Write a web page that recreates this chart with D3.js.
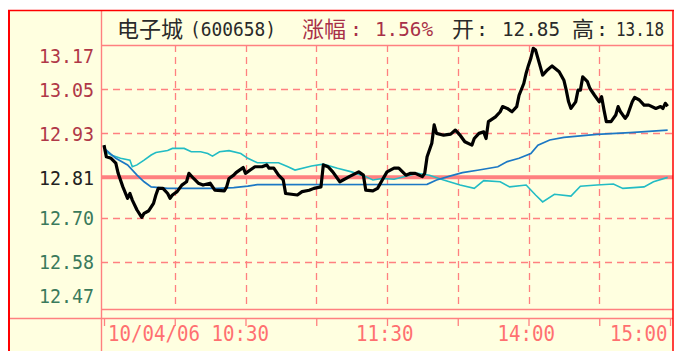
<!DOCTYPE html>
<html><head><meta charset="utf-8">
<script src="https://cdn.jsdelivr.net/npm/d3@7"></script>
<style>body{margin:0;background:#fff;}svg{display:block;}</style>
</head><body>
<script>
// ---- data (minutes since 9:30, trading minutes 0..240) ----
const timeP = [0,1,3,5,6,8,10,11,12,14,16,17,19,21,22,23,25,27,28,29,31,33,35,36,38,40,42,45,47,51,52,53,55,56,59,60,62,64,67,69,70,72,74,76,77,82,84,87,89,92,93,95,97,100,104,108,110,111,114,116,118,120,123,125,128,130,132,135,136,137,139,140,141,144,147,149,151,153,156,157,159,161,162,163,166,168,169,171,173,175,176,178,179,180,181,182,183,185,186,188,190,193,195,196,197,198,200,201,202,203,205,206,208,210,211,212,213,215,217,218,219,221,222,224,225,227,229,231,234,236,237,238,239];
const price = [12.898,12.866,12.862,12.849,12.821,12.784,12.753,12.766,12.748,12.721,12.701,12.712,12.719,12.739,12.762,12.780,12.780,12.766,12.753,12.762,12.771,12.789,12.798,12.821,12.807,12.794,12.789,12.794,12.775,12.773,12.784,12.807,12.816,12.823,12.837,12.821,12.830,12.839,12.839,12.844,12.835,12.835,12.816,12.803,12.766,12.762,12.771,12.775,12.780,12.784,12.844,12.839,12.825,12.798,12.812,12.825,12.816,12.775,12.773,12.780,12.803,12.825,12.835,12.835,12.816,12.821,12.821,12.812,12.821,12.866,12.903,12.953,12.930,12.925,12.928,12.939,12.925,12.907,12.898,12.916,12.930,12.934,12.916,12.962,12.975,12.989,13.003,12.998,12.989,13.003,13.034,13.066,13.094,13.116,13.135,13.162,13.157,13.112,13.089,13.103,13.114,13.098,13.075,13.048,13.016,12.998,13.016,13.048,13.048,13.084,13.071,13.053,13.034,13.016,13.030,12.994,12.962,12.962,12.980,13.003,12.989,12.971,12.980,13.016,13.028,13.021,13.007,13.007,12.998,13.003,12.998,13.012,13.004];
const timeA = [0,5,10,14,17,20,27,48,55,61,65,137,141,147,152,159,167,171,176,181,184,189,195,202,209,223,239];
const avgPrice = [12.890,12.862,12.844,12.816,12.798,12.784,12.780,12.780,12.782,12.786,12.790,12.791,12.803,12.814,12.823,12.830,12.839,12.853,12.862,12.875,12.898,12.912,12.919,12.923,12.927,12.932,12.939];
const timeI = [0,3,7,11,12,14,17,20,22,27,29,34,37,41,44,46,49,53,58,61,65,74,78,81,88,93,99,105,111,114,118,123,133,138,144,151,157,161,168,172,179,183,186,191,198,202,209,216,220,229,233,239];
const indexLine = [12.884,12.871,12.862,12.857,12.839,12.844,12.857,12.871,12.878,12.883,12.889,12.889,12.880,12.880,12.875,12.868,12.880,12.883,12.875,12.862,12.850,12.850,12.839,12.830,12.841,12.846,12.835,12.825,12.812,12.803,12.807,12.805,12.821,12.816,12.803,12.789,12.780,12.801,12.798,12.784,12.789,12.762,12.743,12.764,12.759,12.786,12.789,12.792,12.780,12.784,12.798,12.810];
const prevClose = 12.81;
const yTickValues = [13.17, 13.05, 12.93, 12.81, 12.70, 12.58, 12.47];
const yTickLabels = ["13.17","13.05","12.93","12.81","12.70","12.58","12.47"];
const gridTimes = [30,60,90,120,150,180,210];
const tickTimes = [0,30,60,90,120,150,180,210,240];
const xLabels = [{t:60,text:"10/04/06 10:30"},{t:120,text:"11:30"},{t:180,text:"14:00"},{t:240,text:"15:00"}];
const headerParts = [
  {text:"电子城",cjk:true,color:"#2a2a2a"},
  {text:"(600658)",cjk:false,color:"#2a2a2a"},
  {text:"涨幅",cjk:true,color:"#a83048"},
  {text:":",cjk:false,color:"#a83048"},
  {text:"1.56%",cjk:false,color:"#a83048"},
  {text:"开",cjk:true,color:"#2a2a2a"},
  {text:":",cjk:false,color:"#2a2a2a"},
  {text:"12.85",cjk:false,color:"#2a2a2a"},
  {text:"高",cjk:true,color:"#2a2a2a"},
  {text:":",cjk:false,color:"#2a2a2a"},
  {text:"13.18",cjk:false,color:"#2a2a2a"}
];
// ---- layout ----
const W=675,H=351;
const L=101, R=673, T=45, B=309, AX=318;
const PINK="#ff8080", BG="#ffffe0";
const mono="'DejaVu Sans Mono', monospace";
const cjkFont="'Noto Sans CJK SC', sans-serif";

const svg=d3.select("body").append("svg").attr("width",W).attr("height",H);
const x=d3.scaleLinear().domain([0,240]).range([104,670]);
const y=d3.scaleLinear().domain([12.451,13.171]).range([B,T]);

svg.append("rect").attr("x",9).attr("y",10).attr("width",664).attr("height",H-10).attr("fill",BG);

const defs=svg.append("defs");
defs.append("clipPath").attr("id","pclip").append("rect").attr("x",L).attr("y",T).attr("width",R-L).attr("height",B-T);

// structural pink lines
const st=svg.append("g").attr("stroke",PINK).attr("stroke-width",1.4).attr("fill","none");
st.append("line").attr("x1",101.5).attr("x2",101.5).attr("y1",10).attr("y2",H);
st.append("line").attr("x1",L).attr("x2",R).attr("y1",45.5).attr("y2",45.5);
st.append("line").attr("x1",L).attr("x2",R).attr("y1",309.5).attr("y2",309.5);
st.append("line").attr("x1",9).attr("x2",R).attr("y1",318.5).attr("y2",318.5);

// dashed grid
const g=svg.append("g").attr("stroke",PINK).attr("stroke-width",1.3).attr("stroke-dasharray","7,5");
g.selectAll(".vg").data(gridTimes).join("line")
  .attr("x1",d=>Math.round(x(d))+0.5).attr("x2",d=>Math.round(x(d))+0.5).attr("y1",T).attr("y2",B);
g.selectAll(".hg").data(yTickValues.filter(v=>v!==prevClose && v<13.1 && v>12.5)).join("line")
  .attr("x1",L).attr("x2",R).attr("y1",d=>Math.round(y(d))+0.5).attr("y2",d=>Math.round(y(d))+0.5);

// prev close thick line
svg.append("line").attr("x1",L).attr("x2",R).attr("y1",y(prevClose)).attr("y2",y(prevClose))
  .attr("stroke",PINK).attr("stroke-width",4);

// x ticks via axis
const axis=d3.axisBottom(x).tickValues(tickTimes).tickSize(8).tickFormat("");
const ax=svg.append("g").attr("transform",`translate(0,${AX})`).call(axis);
ax.select(".domain").remove();
ax.selectAll("line").attr("stroke",PINK).attr("stroke-width",1.3);

// x labels
svg.selectAll(".xl").data(xLabels).join("text")
  .attr("x",d=>d.t===60?x(0)+4:(d.t===240?x(240)-60:x(d.t)-31))
  .attr("y",341).attr("font-family",mono).attr("font-size",21)
  .attr("fill","#ff7070")
  .attr("textLength",d=>d.text.length*11.5).attr("lengthAdjust","spacingAndGlyphs")
  .text(d=>d.text);

// y labels
svg.selectAll(".yl").data(yTickValues).join("text")
  .attr("x",39)
  .attr("y",d=>Math.min(Math.max(y(d),T+10.5),B-13.5)+7.5)
  .attr("font-family",mono).attr("font-size",20)
  .attr("textLength",55).attr("lengthAdjust","spacingAndGlyphs")
  .attr("fill",d=>d>prevClose+0.001?"#b03848":(d<prevClose-0.001?"#3a7a5c":"#222"))
  .text((d,i)=>yTickLabels[i]);

// header
const hx=[117,190,302,350,375,452,476,502,572,596,616];
const hw=[0,86,0,0,58,0,0,58,0,0,48];
svg.append("g").selectAll("text").data(headerParts).join("text")
  .attr("x",(d,i)=>hx[i]).attr("y",d=>d.cjk?37:36)
  .attr("font-family",d=>d.cjk?cjkFont:mono)
  .attr("font-size",d=>d.cjk?22:20)
  .attr("fill",d=>d.color)
  .each(function(d,i){ if(hw[i]) d3.select(this).attr("textLength",hw[i]).attr("lengthAdjust","spacingAndGlyphs"); })
  .text(d=>d.text);

// series
const plot=svg.append("g").attr("clip-path","url(#pclip)");
const lineGen=(ts,vs)=>d3.line().x((d,i)=>x(ts[i])).y(d=>y(d))(vs);
plot.append("path").attr("d",lineGen(timeI,indexLine)).attr("fill","none").attr("stroke","#22bcc4").attr("stroke-width",1.6);
plot.append("path").attr("d",lineGen(timeA,avgPrice)).attr("fill","none").attr("stroke","#1c78c4").attr("stroke-width",1.7);
plot.append("path").attr("d",lineGen(timeP,price)).attr("fill","none").attr("stroke","#000").attr("stroke-width",3.2).attr("stroke-linejoin","round");

// red outer border
const rb=svg.append("g").attr("stroke","#ff0000").attr("fill","none");
rb.append("line").attr("x1",9).attr("x2",9).attr("y1",10).attr("y2",H).attr("stroke-width",2);
rb.append("line").attr("x1",8).attr("x2",674).attr("y1",10.5).attr("y2",10.5).attr("stroke-width",1.5);
rb.append("line").attr("x1",673).attr("x2",673).attr("y1",10).attr("y2",H).attr("stroke-width",1.5);
</script>
</body></html>
